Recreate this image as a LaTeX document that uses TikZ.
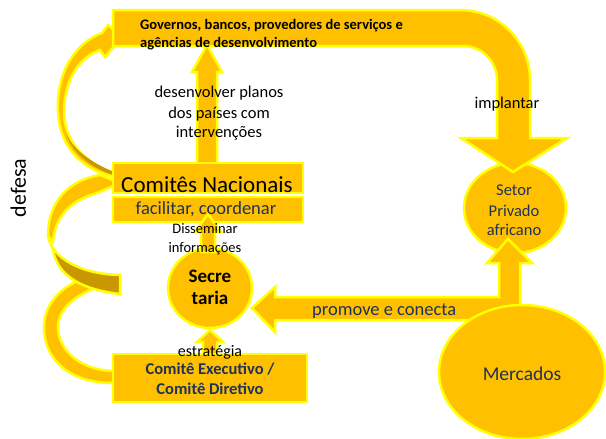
\documentclass[tikz,border=0pt]{standalone}
\usepackage{fontspec}
\setmainfont{Carlito}
\definecolor{gold}{RGB}{255,192,0}
\definecolor{ylw}{RGB}{255,255,0}
\definecolor{darkgold}{RGB}{201,152,0}
\definecolor{navy}{RGB}{31,50,90}
\begin{document}
\begin{tikzpicture}[x=1pt,y=-1pt,
  shp/.style={fill=gold,draw=ylw,line width=2.5pt,line join=miter},
  dshp/.style={fill=darkgold,draw=ylw,line width=2.5pt,line join=miter},
  lbl/.style={anchor=base,inner sep=0pt,text=black},
  nlbl/.style={anchor=base,inner sep=0pt,text=navy}]
\useasboundingbox (0,0) rectangle (606,439);
% left ribbons
\draw[shp] (113,383) .. controls (70,383) and (44,360) .. (44,327) .. controls (44,305) and (60,288) .. (80,280) -- (95,288) .. controls (70,298) and (58,312) .. (58,327) .. controls (58,350) and (80,370) .. (113,371) -- cycle;
\draw[dshp] (48,236) .. controls (52,258) and (80,274) .. (120,275) -- (120,294) .. controls (85,290) and (58,278) .. (53,250) -- cycle;
\draw[shp] (120,183) -- (100,175) .. controls (70,180) and (48,200) .. (48,236) -- (53,242) .. controls (55,215) and (72,200) .. (97,193) -- cycle;
\draw[shp] (102,33) .. controls (70,45) and (56,80) .. (58,112) .. controls (60,150) and (85,172) .. (120,178) -- (118,174) .. controls (85,165) and (63,140) .. (64,110) .. controls (65,80) and (78,58) .. (100,50) -- (105,57) -- (122,37) -- (108,25) -- cycle;
\fill[darkgold] (66,132) .. controls (72,155) and (95,170) .. (117,176) -- (116,173) .. controls (92,163) and (72,150) .. (66,132) -- cycle;
% setor privado
\draw[shp] (515,208) ellipse [x radius=51, y radius=45];
% top bar arrow
\draw[shp] (113,10) -- (460,10) .. controls (498.7,10) and (530,41.3) .. (530,80) -- (530,138) -- (567,138) -- (513,172) -- (461,138) -- (497,138) -- (497,80) .. controls (497,61.2) and (481.8,46) .. (463,46) -- (113,46) -- cycle;
% promove arrow
\draw[shp] (252,308) -- (275,287) -- (275,297) -- (499,297) -- (499,263) -- (487,263) -- (508,239) -- (532,263) -- (520,263) -- (520,320) -- (275,320) -- (275,332) -- cycle;
% mercados
\draw[shp] (522,372) ellipse [x radius=83, y radius=67];
% arrow up to governos
\draw[shp] (197,168) -- (197,72) -- (192,72) -- (207,45) -- (222,72) -- (217,72) -- (217,168) -- cycle;
% comites nacionais
\draw[shp] (113,163) rectangle (303,193);
\draw[shp] (113,197) rectangle (303,222);
% secretaria
\draw[shp] (210,288) ellipse [x radius=42, y radius=40];
% disseminar arrow
\draw[shp] (201,252) -- (201,232) -- (195,232) -- (208,214) -- (221,232) -- (215,232) -- (215,252) -- cycle;
% estrategia arrow
\draw[shp] (203,356) -- (203,342) -- (197,342) -- (210,330) -- (223,342) -- (217,342) -- (217,356) -- cycle;
% comite executivo
\draw[shp] (113,354) rectangle (307,402);
% texts
\node[lbl,anchor=base west,font=\bfseries\fontsize{14.5}{16}\selectfont] (g1) at (140,30) {Governos, bancos, provedores de serviços e};
\node[lbl,anchor=base west,font=\bfseries\fontsize{14.5}{16}\selectfont] (g2) at (140,47) {agências de desenvolvimento};
\node[lbl,font=\fontsize{16.5}{20}\selectfont] (d1) at (219,97) {desenvolver planos};
\node[lbl,font=\fontsize{16.5}{20}\selectfont] (d2) at (219,118) {dos países com};
\node[lbl,font=\fontsize{16.5}{20}\selectfont] (d3) at (219,137) {intervenções};
\node[lbl,font=\fontsize{16.5}{20}\selectfont] (imp) at (507,108) {implantar};
\node[lbl,rotate=90,font=\fontsize{22}{26}\selectfont] (def) at (26,188) {defesa};
\node[lbl,font=\fontsize{23}{26}\selectfont] (cn) at (207,192) {Comitês Nacionais};
\node[nlbl,font=\fontsize{18.5}{22}\selectfont] (fc) at (206,214) {facilitar, coordenar};
\node[lbl,font=\fontsize{14.5}{18}\selectfont] (ds1) at (205,233) {Disseminar};
\node[lbl,font=\fontsize{14.5}{18}\selectfont] (ds2) at (205,252) {informações};
\node[lbl,font=\bfseries\fontsize{19}{22}\selectfont] (s1) at (210,282) {Secre};
\node[lbl,font=\bfseries\fontsize{19}{22}\selectfont] (s2) at (210,304) {taria};
\node[lbl,font=\fontsize{16}{20}\selectfont] (est) at (210,356) {estratégia};
\node[nlbl,font=\bfseries\fontsize{16.5}{20}\selectfont] (ce1) at (210,374) {Comitê Executivo /};
\node[nlbl,font=\bfseries\fontsize{16.5}{20}\selectfont] (ce2) at (210,394) {Comitê Diretivo};
\node[nlbl,anchor=base west,font=\fontsize{18.5}{22}\selectfont] (pc) at (312,315) {promove e conecta};
\node[nlbl,font=\fontsize{16.5}{20}\selectfont] (sp1) at (514,195) {Setor};
\node[nlbl,font=\fontsize{16.5}{20}\selectfont] (sp2) at (514,216) {Privado};
\node[nlbl,font=\fontsize{16.5}{20}\selectfont] (sp3) at (514,235) {africano};
\node[nlbl,font=\fontsize{19.5}{22}\selectfont] (mer) at (522,380) {Mercados};
\end{tikzpicture}
\end{document}
